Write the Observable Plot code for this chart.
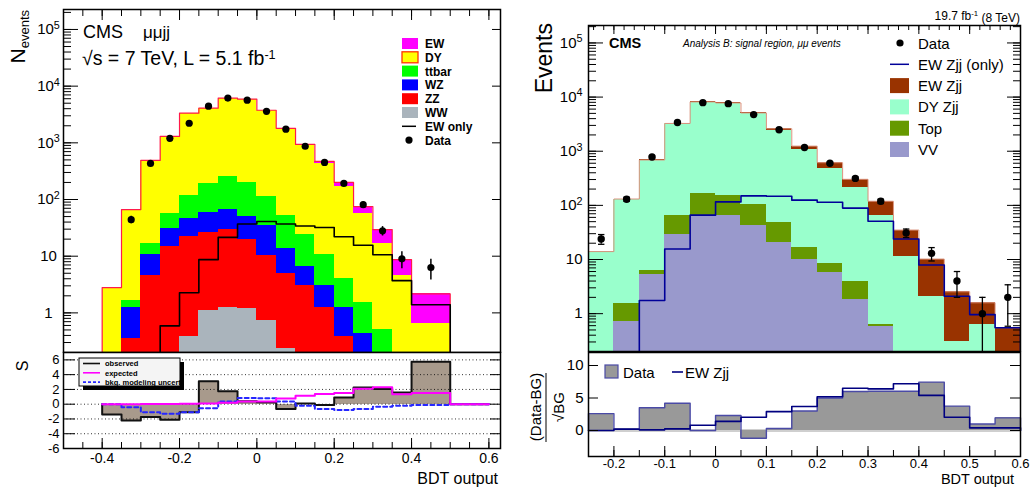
<!DOCTYPE html>
<html><head><meta charset="utf-8">
<script src="https://cdn.jsdelivr.net/npm/d3@7"></script>
<script src="https://cdn.jsdelivr.net/npm/@observablehq/plot@0.6"></script>
<style>
body{margin:0;background:#fff;}
#root{position:relative;width:1030px;height:487px;overflow:hidden;background:#fff;}
#root svg{position:absolute;}
</style></head><body><div id="root"></div>
<script>
const FONT = '"Liberation Sans", Arial, Helvetica, sans-serif';

// ================= DATA: left (7 TeV) =================
const leftEdges  = [-0.4,-0.35,-0.3,-0.25,-0.2,-0.15,-0.1,-0.05,0,0.05,0.1,0.15,0.2,0.25,0.3,0.35,0.4,0.5];
const leftWW     = [0.02,0.03,0.08,0.15,0.39,1.08,1.23,1.18,0.72,0.24,0.1,0.05,0.03,0.02,0.01,0.01,0.01];
const leftZZ     = [0.03,0.32,4.4,14.5,21.6,24.9,28.3,18.4,9.5,4.7,2.9,1.18,0.36,0.13,0.05,0.02,0.01];
const leftWZ     = [0.03,0.88,6.1,15.9,24,33,36.5,30.4,24.4,8.6,3.5,1.77,0.84,0.28,0.12,0.03,0.01];
const leftTTbar  = [0.04,0.4,6.1,26.4,72,133,188,150,78,38.5,17.5,7.6,2.77,1.07,0.32,0.06,0.02];
const leftDY     = [2.66,64.8,473,1242,3210,3879,5875,5663,3606,1711,882,427,166,55.5,16.2,4.38,0.59];
const leftEW     = [0.02,0.1,0.3,0.6,2.3,8.7,21,37,41,37,34,32,30,18,12.8,4.2,1.53];
const leftEWonly = [0,0,0,0.59,2.26,8.7,21.5,37,41,37,34,32,22,15.6,10.6,3.7,1.39];
const leftData   = [0,44,433,1200,2215,4430,6150,5650,3600,1740,870,452,192,81,28,9,6.3];
// significance panel (last bin 0.5-0.6 is empty)
const leftRatioEdges = [-0.4,-0.35,-0.3,-0.25,-0.2,-0.15,-0.1,-0.05,0,0.05,0.1,0.15,0.2,0.25,0.3,0.35,0.4,0.5,0.6];
const leftObserved = [-1.4,-2.2,-1.75,-2.1,-1.1,3.1,1.75,0.4,0.25,-0.65,0.1,-0.1,0.9,2.25,2.05,1.6,5.75,0];
const leftExpected = [0,0,0.02,0.03,0.05,0.1,0.2,0.38,0.38,0.78,1.15,1.37,1.5,2.1,2.3,1.35,1.5,0];
const leftBkgUnc   = [0,-0.4,-1.1,-1.3,-1.1,-0.55,0.35,0.85,0.8,0.35,-0.2,-0.65,-0.8,-0.65,-0.35,-0.2,-0.1,0];

// ================= DATA: right (8 TeV) =================
const rightEdges  = [-0.25,-0.2,-0.15,-0.1,-0.05,0,0.05,0.1,0.15,0.2,0.25,0.3,0.35,0.4,0.45,0.5,0.55,0.6];
const rightVV     = [0.03,0.72,5.4,29.5,66,64,43,21,9.8,5.7,1.8,0.58,0.1,0.05,0.03,0.02,0.01];
const rightTop    = [0.02,0.81,0.85,36.5,101,90,59,28,7.2,2.6,2.1,0.04,0.05,0.02,0.01,0.01,0.01];
const rightDY     = [13.95,129.5,682,3178,7917,7530,4848,2404,1063,470,212,65.4,11.05,1.98,0.27,0.6,0.08];
const rightEW     = [0,0,1.75,15.6,66,116,150,147,162,136,87,53,23.8,8.15,2.23,0.96,0.45];
const rightEWonly = [0,0,1.75,15.6,66,116,150,147,125,114,89,51,24,7.9,2.1,0.96,0.55];
const rightData   = [24,130,780,3390,7890,7560,4750,2500,1170,600,315,119,31,13,4,1,2];
const rightRatioData = [2.6,0.25,3.5,4.2,0,2.3,-1.2,0.3,3.0,5.0,6.0,6.05,6.05,7.45,3.75,1.0,1.95];
const rightRatioEW   = [0,0.2,0.1,0.25,0.8,1.4,2.05,2.9,3.7,5.2,6.5,6.4,7.2,5.4,2.05,0.4,0.4];

// ================= TICKS / LABELS =================
const logMajor = [1,10,100,1000,10000,100000];
const leftXLabels = [-0.4,-0.2,0,0.2,0.4,0.6];
const rightXLabels = [-0.2,-0.1,0,0.1,0.2,0.3,0.4,0.5,0.6];
const leftSLabels = [-6,-4,-2,0,2,4,6];
const leftSGrid = [-4,-2,0,2,4,6];
const rightRLabels = [0,5,10];

// ================= helpers =================
const pos = v => (v > 0 ? v : 1e-4);
function steps(edges, vals, base) {
  const pts = [{x: edges[0], y: base}];
  vals.forEach((v, i) => { pts.push({x: edges[i], y: v}, {x: edges[i + 1], y: v}); });
  pts.push({x: edges[edges.length - 1], y: base});
  return pts;
}
function stack(comps) {
  let cum = comps[0].values.map(() => 0);
  return comps.map(c => { cum = cum.map((s, i) => s + c.values[i]); return {...c, top: cum.slice()}; });
}
function bars(edges, tops, floor) {
  return tops.map((t, i) => ({x1: edges[i], x2: edges[i + 1], y1: floor, y2: pos(t)}));
}
const rng = (a, b, s) => d3.range(Math.round(a / s), Math.round(b / s) + 1).map(k => +(k * s).toFixed(4));
function logMinor(lo, hi) {
  const out = [];
  for (let e = -1; e <= 5; e++) for (let m = 1; m <= 9; m++) { const v = m * 10 ** e; if (v >= lo && v <= hi) out.push(v); }
  return out;
}
function yTicks(vals, len, side, pw, sw = 1) {
  return Plot.tickY(vals, {y: d => d, stroke: "black", strokeWidth: sw,
    ...(side === "left" ? {insetRight: pw - len} : {insetLeft: pw - len})});
}
function xTicks(vals, len, side, ph, sw = 1) {
  return Plot.tickX(vals, {x: d => d, stroke: "black", strokeWidth: sw,
    ...(side === "bottom" ? {insetTop: ph - len} : {insetBottom: ph - len})});
}
const logFmt = d => { const e = Math.round(Math.log10(d)); return e >= 2 ? `10^${e}` : String(d); };
const xFmt = d => (d === 0 ? "0" : String(+d.toFixed(2)));
function supLabels(svg) {
  d3.select(svg).selectAll('g[aria-label="y-axis tick label"] text').each(function () {
    const m = this.textContent.match(/^10\^(\d+)$/);
    if (m) {
      const t = d3.select(this); t.text("10");
      t.append("tspan").attr("dy", "-0.5em").attr("font-size", "0.72em").text(m[1]);
    }
  });
}
const root = document.getElementById("root");
function place(svg, left, top) { svg.style.left = left + "px"; svg.style.top = top + "px"; root.appendChild(svg); supLabels(svg); }
const baseStyle = {background: "transparent", fontFamily: FONT, color: "black"};

// ================= LEFT MAIN =================
{
  const W = 510, H = 353, mL = 63, mR = 10, mT = 9, mB = 1;
  const pw = W - mL - mR, ph = H - mT - mB, FLOOR = 0.2;
  const layers = stack([
    {name: "WW", values: leftWW, fill: "#aab4bc"},
    {name: "ZZ", values: leftZZ, fill: "#ff0000"},
    {name: "WZ", values: leftWZ, fill: "#0000ff"},
    {name: "ttbar", values: leftTTbar, fill: "#00ff00"},
    {name: "DY", values: leftDY, fill: "#ffff00"},
    {name: "EW", values: leftEW, fill: "#ff00ff"}
  ]);
  const total = layers[layers.length - 1].top;
  const centers = leftData.map((v, i) => ({x: (leftEdges[i] + leftEdges[i + 1]) / 2, y: v,
    lo: pos(v - Math.sqrt(v)), hi: v + Math.sqrt(v)})).filter(d => d.y > 0);
  const svg = Plot.plot({
    width: W, height: H, marginLeft: mL, marginRight: mR, marginTop: mT, marginBottom: mB,
    style: baseStyle,
    x: {domain: [-0.5, 0.63], axis: null},
    y: {type: "log", domain: [FLOOR, 2.25e5]},
    marks: [
      ...layers.slice().reverse().map(l => Plot.rect(bars(leftEdges, l.top, FLOOR),
        {x1: "x1", x2: "x2", y1: "y1", y2: "y2", fill: l.fill, clip: true, shapeRendering: "crispEdges"})),
      Plot.line(steps(leftEdges, total.map(pos), 1e-4), {x: "x", y: "y", stroke: "#ff1a4a", strokeWidth: 1.2, clip: true}),
      Plot.line(steps(leftEdges, leftEWonly.map(pos), 1e-4), {x: "x", y: "y", stroke: "black", strokeWidth: 1.6, clip: true}),
      Plot.ruleX(centers, {x: "x", y1: "lo", y2: "hi", stroke: "black", strokeWidth: 1.5, clip: true}),
      Plot.dot(centers, {x: "x", y: "y", r: 3.6, fill: "black"}),
      yTicks(logMajor, 15, "left", pw), yTicks(logMinor(0.2, 2.2e5), 8, "left", pw),
      yTicks(logMajor, 8, "right", pw),
      xTicks(rng(-0.5, 0.6, 0.05), 7, "top", ph), xTicks(rng(-0.4, 0.6, 0.2), 11, "top", ph),
      Plot.axisY(logMajor, {anchor: "left", tickSize: 0, tickPadding: 15, textAnchor: "middle",
        tickFormat: logFmt, fontSize: 15, label: null}),
      Plot.frame({stroke: "black", strokeWidth: 1.5})
    ]
  });
  place(svg, 0, 0);
}

// ================= LEFT SIGNIFICANCE =================
{
  const W = 510, H = 147, mL = 63, mR = 10, mT = 12, mB = 39;
  const pw = W - mL - mR, ph = H - mT - mB;
  const obsBars = leftObserved.map((v, i) => ({x1: leftRatioEdges[i], x2: leftRatioEdges[i + 1], y1: 0, y2: v}));
  const svg = Plot.plot({
    width: W, height: H, marginLeft: mL, marginRight: mR, marginTop: mT, marginBottom: mB,
    style: baseStyle,
    x: {domain: [-0.5, 0.63]},
    y: {domain: [-6, 7]},
    marks: [
      Plot.rect(obsBars, {x1: "x1", x2: "x2", y1: "y1", y2: "y2", fill: "#a89a8c", shapeRendering: "crispEdges"}),
      Plot.ruleY(leftSGrid, {stroke: "black", strokeWidth: 1, strokeDasharray: "1,2.5", strokeOpacity: 0.8}),
      Plot.line(steps(leftRatioEdges, leftObserved, 0), {x: "x", y: "y", stroke: "#111", strokeWidth: 2}),
      Plot.line(steps(leftRatioEdges, leftBkgUnc, 0), {x: "x", y: "y", stroke: "#2626ff", strokeWidth: 2, strokeDasharray: "4,3"}),
      Plot.line(steps(leftRatioEdges, leftExpected, 0), {x: "x", y: "y", stroke: "#ff00ff", strokeWidth: 2}),
      yTicks(leftSLabels, 12, "left", pw), yTicks(leftSLabels, 10, "right", pw),
      xTicks(rng(-0.5, 0.6, 0.05), 6, "bottom", ph), xTicks(rng(-0.4, 0.6, 0.2), 10, "bottom", ph),
      Plot.axisY(leftSLabels, {anchor: "left", tickSize: 0, tickPadding: 4, fontSize: 13, label: null,
        tickFormat: d => String(d)}),
      Plot.axisX(leftXLabels, {anchor: "bottom", tickSize: 0, tickPadding: 5, fontSize: 14, label: null, tickFormat: xFmt}),
      Plot.frame({stroke: "black", strokeWidth: 1.5})
    ]
  });
  place(svg, 0, 340);
}

// ================= RIGHT MAIN =================
{
  const W = 520, H = 352, mL = 78, mR = 10, mT = 25, mB = 1;
  const pw = W - mL - mR, ph = H - mT - mB, FLOOR = 0.2;
  const layers = stack([
    {name: "VV", values: rightVV, fill: "#9999cc"},
    {name: "Top", values: rightTop, fill: "#669900"},
    {name: "DY Zjj", values: rightDY, fill: "#99ffcc"},
    {name: "EW Zjj", values: rightEW, fill: "#993300"}
  ]);
  const total = layers[layers.length - 1].top;
  const pts = rightData.map((v, i) => ({x: (rightEdges[i] + rightEdges[i + 1]) / 2, y: v,
    lo: pos(v - Math.sqrt(v)), hi: v + Math.sqrt(v)}));
  const cap = {draw(ctx, size) { const r = 3.2; ctx.moveTo(-r, 0); ctx.lineTo(r, 0); }};
  const svg = Plot.plot({
    width: W, height: H, marginLeft: mL, marginRight: mR, marginTop: mT, marginBottom: mB,
    style: baseStyle,
    x: {domain: [-0.25, 0.6], axis: null},
    y: {type: "log", domain: [FLOOR, 2.1e5]},
    marks: [
      ...layers.slice().reverse().map(l => Plot.rect(bars(rightEdges, l.top, FLOOR),
        {x1: "x1", x2: "x2", y1: "y1", y2: "y2", fill: l.fill, clip: true, shapeRendering: "crispEdges"})),
      Plot.line(steps(rightEdges, total.map(pos), 1e-4), {x: "x", y: "y", stroke: "#d9907a", strokeWidth: 1, clip: true}),
      Plot.line(steps(rightEdges, rightEWonly.map(pos), 1e-4), {x: "x", y: "y", stroke: "#000099", strokeWidth: 1.6, clip: true}),
      Plot.ruleX(pts, {x: "x", y1: "lo", y2: "hi", stroke: "black", strokeWidth: 1.3, clip: true}),
      Plot.dot(pts.filter(d => d.lo > FLOOR), {x: "x", y: "lo", symbol: cap, stroke: "black", strokeWidth: 1.3}),
      Plot.dot(pts, {x: "x", y: "hi", symbol: cap, stroke: "black", strokeWidth: 1.3}),
      Plot.dot(pts, {x: "x", y: "y", r: 3.7, fill: "black"}),
      yTicks(logMajor, 15, "left", pw), yTicks(logMinor(0.2, 2e5), 8, "left", pw),
      yTicks(logMajor, 13, "right", pw), yTicks(logMinor(0.2, 2e5), 7, "right", pw),
      xTicks(rng(-0.24, 0.6, 0.02), 5, "top", ph), xTicks(rng(-0.2, 0.6, 0.1), 9, "top", ph),
      Plot.axisY(logMajor, {anchor: "left", tickSize: 0, tickPadding: 6, tickFormat: logFmt, fontSize: 15, label: null}),
      Plot.frame({stroke: "black", strokeWidth: 1.5})
    ]
  });
  place(svg, 510, 0);
}

// ================= RIGHT RATIO =================
{
  const W = 520, H = 147, mL = 78, mR = 10, mT = 12, mB = 31;
  const pw = W - mL - mR, ph = H - mT - mB;
  const dBars = rightRatioData.map((v, i) => ({x1: rightEdges[i], x2: rightEdges[i + 1], y1: 0, y2: v}));
  const svg = Plot.plot({
    width: W, height: H, marginLeft: mL, marginRight: mR, marginTop: mT, marginBottom: mB,
    style: baseStyle,
    x: {domain: [-0.25, 0.6]},
    y: {domain: [-4, 12]},
    marks: [
      Plot.ruleY([0], {stroke: "#cfcfcf", strokeWidth: 3}),
      Plot.rect(dBars, {x1: "x1", x2: "x2", y1: "y1", y2: "y2", fill: "#999999", shapeRendering: "crispEdges"}),
      Plot.line(steps(rightEdges, rightRatioData, 0), {x: "x", y: "y", stroke: "#4a4aa6", strokeWidth: 1.4}),
      Plot.line(steps(rightEdges, rightRatioEW, 0), {x: "x", y: "y", stroke: "#000080", strokeWidth: 1.6}),
      yTicks(rightRLabels, 10, "left", pw), yTicks(rightRLabels, 10, "right", pw),
      xTicks(rng(-0.25, 0.6, 0.05), 6, "bottom", ph), xTicks(rng(-0.2, 0.6, 0.1), 10, "bottom", ph),
      Plot.axisY(rightRLabels, {anchor: "left", tickSize: 0, tickPadding: 5, fontSize: 15, label: null, tickFormat: d => String(d)}),
      Plot.axisX(rightXLabels, {anchor: "bottom", tickSize: 0, tickPadding: 2, fontSize: 13, label: null, tickFormat: xFmt}),
      Plot.frame({stroke: "black", strokeWidth: 1.5})
    ]
  });
  place(svg, 510, 340);
}

// ================= OVERLAY TEXT & LEGENDS =================
const ov = d3.select(root).append("svg").attr("width", 1030).attr("height", 487)
  .style("left", "0px").style("top", "0px").attr("font-family", FONT).attr("fill", "black");
function txt(x, y, s, size, o = {}) {
  const t = ov.append("text").attr("x", x).attr("y", y).attr("font-size", size).text(s);
  if (o.anchor) t.attr("text-anchor", o.anchor);
  if (o.weight) t.attr("font-weight", o.weight);
  if (o.style) t.attr("font-style", o.style);
  if (o.rot) t.attr("transform", `rotate(${o.rot},${x},${y})`);
  return t;
}
// left titles
txt(83, 38, "CMS", 18);
txt(143, 38, "μμjj", 17);
{ const t = txt(82, 65, "√s = 7 TeV, L = 5.1 fb", 19.5);
  t.append("tspan").attr("dy", "-0.5em").attr("font-size", "0.65em").text("-1"); }
// left y title
{ const t = txt(25, 10, "N", 21, {anchor: "end", rot: -90});
  t.append("tspan").attr("dy", "0.3em").attr("font-size", "13").text("events"); }
txt(28, 366, "S", 16, {anchor: "middle", rot: -90});
txt(498, 484, "BDT output", 16, {anchor: "end"});

// left legend
const leftLegend = [
  {label: "EW", fill: "#ff00ff"}, {label: "DY", fill: "#ffff00", stroke: "#ff3300"},
  {label: "ttbar", fill: "#00ff00"}, {label: "WZ", fill: "#0000ff"}, {label: "ZZ", fill: "#ff0000"},
  {label: "WW", fill: "#aab4bc"}, {label: "EW only", line: true}, {label: "Data", dot: true}
];
leftLegend.forEach((e, i) => {
  const cy = 43.5 + i * 13.8;
  if (e.line) ov.append("line").attr("x1", 402).attr("x2", 416).attr("y1", cy).attr("y2", cy).attr("stroke", "black").attr("stroke-width", 1.5);
  else if (e.dot) ov.append("circle").attr("cx", 409).attr("cy", cy).attr("r", 3.6);
  else ov.append("rect").attr("x", 402).attr("y", cy - 5.5).attr("width", 16).attr("height", 11).attr("fill", e.fill)
    .attr("stroke", e.stroke || "none").attr("stroke-width", 1.3);
  txt(425, cy + 4.5, e.label, 12, {weight: "bold"});
});
// left significance legend
ov.append("rect").attr("x", 83).attr("y", 362).attr("width", 101).attr("height", 28).attr("fill", "black");
ov.append("rect").attr("x", 79).attr("y", 358).attr("width", 101).attr("height", 28).attr("fill", "#f4f4f4").attr("stroke", "black").attr("stroke-width", 1);
[{label: "observed", c: "#111", d: null}, {label: "expected", c: "#ff00ff", d: null}, {label: "bkg. modeling uncert.", c: "#2626ff", d: "3,2"}]
  .forEach((e, i) => {
    const cy = 363.5 + i * 9.3;
    const l = ov.append("line").attr("x1", 83).attr("x2", 100).attr("y1", cy).attr("y2", cy).attr("stroke", e.c).attr("stroke-width", 1.6);
    if (e.d) l.attr("stroke-dasharray", e.d);
    txt(105, cy + 2.7, e.label, 7.5, {weight: "bold"});
  });

// right titles
{ const t = txt(1020, 20, "19.7 fb", 12, {anchor: "end"});
  t.append("tspan").attr("dy", "-0.5em").attr("font-size", "0.65em").text("-1");
  t.append("tspan").attr("dy", "0.5em").text(" (8 TeV)"); }
txt(609, 48, "CMS", 14.5, {weight: "bold"});
txt(683, 47, "Analysis B: signal region, μμ events", 10, {style: "italic"});
txt(552, 23, "Events", 23, {anchor: "end", rot: -90});
txt(1014, 483.8, "BDT output", 14.5, {anchor: "end"});
// right ratio y title (fraction)
txt(541, 407, "(Data-BG)", 15, {anchor: "middle", rot: -90});
ov.append("line").attr("x1", 546).attr("x2", 546).attr("y1", 373).attr("y2", 442).attr("stroke", "black").attr("stroke-width", 1);
txt(564, 407, "√BG", 15, {anchor: "middle", rot: -90});

// right legend
const rightLegend = [
  {label: "Data", dot: true}, {label: "EW Zjj (only)", line: "#000099"},
  {label: "EW Zjj", fill: "#993300"}, {label: "DY Zjj", fill: "#99ffcc"},
  {label: "Top", fill: "#669900"}, {label: "VV", fill: "#9999cc"}
];
rightLegend.forEach((e, i) => {
  const cy = 43 + i * 21.3;
  if (e.dot) ov.append("circle").attr("cx", 900).attr("cy", cy).attr("r", 3.6);
  else if (e.line) ov.append("line").attr("x1", 890).attr("x2", 909).attr("y1", cy).attr("y2", cy).attr("stroke", e.line).attr("stroke-width", 1.5);
  else ov.append("rect").attr("x", 890).attr("y", cy - 7.5).attr("width", 19).attr("height", 15).attr("fill", e.fill);
  txt(918, cy + 5.5, e.label, 15);
});
// right ratio legend
ov.append("rect").attr("x", 605).attr("y", 365).attr("width", 13).attr("height", 13).attr("fill", "#999999").attr("stroke", "#4a4aa6").attr("stroke-width", 1.2);
txt(623, 377.5, "Data", 15);
ov.append("line").attr("x1", 672).attr("x2", 683).attr("y1", 372).attr("y2", 372).attr("stroke", "#000080").attr("stroke-width", 1.6);
txt(685, 377.5, "EW Zjj", 15);
</script>
</body></html>
